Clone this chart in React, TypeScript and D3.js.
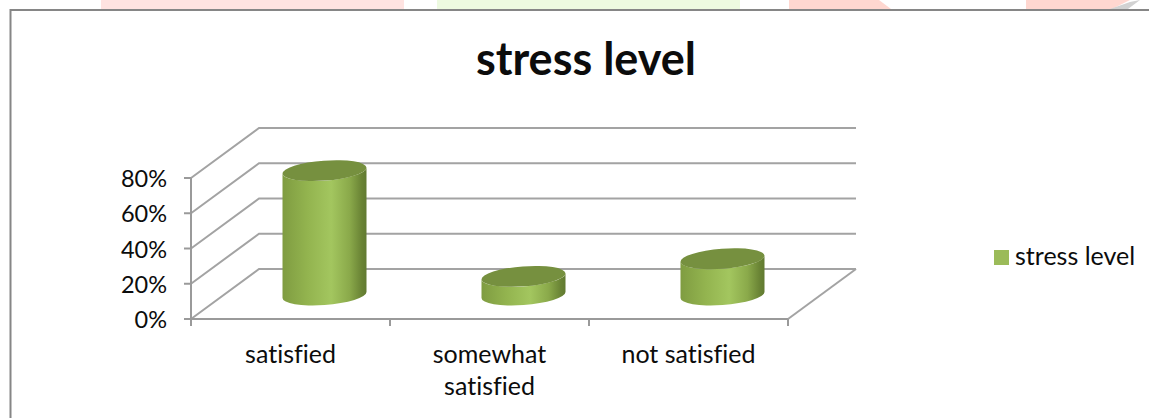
import { useEffect, useRef } from 'react';
import * as d3 from 'd3';

const categories = ['satisfied', 'somewhat satisfied', 'not satisfied'];
const values = [70, 10, 20];
const yTicks = [0, 20, 40, 60, 80];
const seriesName = 'stress level';

const FONT = 'Lato, Carlito, sans-serif';

export default function App() {
  const svgRef = useRef<SVGSVGElement>(null);

  useEffect(() => {
    if (!svgRef.current) return;

    const width = 1149;
    const height = 418;

    // Clear previous content
    const svg = d3.select(svgRef.current);
    svg.selectAll('*').remove();
    svg.attr('width', width).attr('height', height);
    svg.style('font-variant-ligatures', 'none');

    svg.append('rect').attr('width', width).attr('height', height).attr('fill', '#fff');

    // Scraps of the page behind the chart
    const strip = [
      { x: 101, w: 303, c: '#ffe3e1' },
      { x: 437, w: 303, c: '#edfae0' },
    ];
    svg
      .selectAll('rect.strip')
      .data(strip)
      .join('rect')
      .attr('class', 'strip')
      .attr('x', (d) => d.x)
      .attr('y', 0)
      .attr('width', (d) => d.w)
      .attr('height', 9)
      .attr('fill', (d) => d.c);
    svg.append('path').attr('d', 'M789 0L879 0L891 9L789 9Z').attr('fill', '#ffd7d0');
    svg.append('path').attr('d', 'M1026 0L1130 0L1112 9L1026 9Z').attr('fill', '#ffd7d0');
    svg.append('path').attr('d', 'M1110 9L1130 2L1140 0L1128 9Z').attr('fill', '#d2d2d2');

    // Chart frame
    svg
      .append('path')
      .attr('d', 'M10.5 418V10H1149')
      .attr('fill', 'none')
      .attr('stroke', '#868686')
      .attr('stroke-width', 2);

    const x = d3.scaleBand().domain(categories).range([191, 788]);
    const y = d3.scaleLinear().domain([0, 80]).range([319, 178]);
    const depthX = 68;
    const depthY = -50;

    // Gradient for the cylinder sides
    const grad = svg
      .append('defs')
      .append('linearGradient')
      .attr('id', 'side')
      .attr('x1', 0)
      .attr('x2', 1)
      .attr('y1', 0)
      .attr('y2', 0);
    [
      [0, '#7f9c41'],
      [0.3, '#93b44f'],
      [0.58, '#a3c65f'],
      [0.8, '#8aa94a'],
      [0.94, '#6a8435'],
      [1, '#617a31'],
    ].forEach(([o, c]) => grad.append('stop').attr('offset', o).attr('stop-color', c));

    // Back wall gridlines and their diagonals on the side wall
    const grid = svg.append('g').attr('fill', 'none').attr('stroke', '#a3a3a3').attr('stroke-width', 2);
    yTicks.forEach((t) => {
      const p = d3.path();
      p.moveTo(x.range()[0], y(t));
      p.lineTo(x.range()[0] + depthX, y(t) + depthY);
      p.lineTo(x.range()[1] + depthX, y(t) + depthY);
      grid.append('path').attr('d', p.toString());
    });
    const floorEdge = d3.path();
    floorEdge.moveTo(x.range()[1], y(0));
    floorEdge.lineTo(x.range()[1] + depthX, y(0) + depthY);
    grid.append('path').attr('d', floorEdge.toString());

    // Axes
    const axes = svg.append('g').attr('stroke', '#9a9a9a').attr('stroke-width', 2).attr('fill', 'none');
    axes.append('line').attr('x1', 191).attr('x2', 191).attr('y1', y(80)).attr('y2', y(0));
    axes.append('line').attr('x1', 191).attr('x2', 788).attr('y1', y(0)).attr('y2', y(0));
    yTicks.forEach((t) => {
      axes.append('line').attr('x1', 184).attr('x2', 191).attr('y1', y(t)).attr('y2', y(t));
    });
    categories.forEach((c) => {
      const tx = x(c) as number;
      axes.append('line').attr('x1', tx).attr('x2', tx).attr('y1', y(0)).attr('y2', 326);
    });
    axes.append('line').attr('x1', 788).attr('x2', 788).attr('y1', y(0)).attr('y2', 326);

    // Tick labels
    svg
      .selectAll('text.ytick')
      .data(yTicks)
      .join('text')
      .attr('class', 'ytick')
      .attr('x', 167)
      .attr('y', (d) => y(d) + 9)
      .attr('text-anchor', 'end')
      .style('font-family', FONT)
      .style('font-size', '23.5px')
      .style('fill', '#0c0c0c')
      .text((d) => `${d}%`);

    // Cylinders
    const a = 42.1;
    const b = 10;
    const tilt = -4.3;
    const halfW = 42;
    const skew = 3;
    const bars = svg.append('g');
    categories.forEach((c, i) => {
      const cx = (x(c) as number) + x.bandwidth() / 2 + depthX / 2;
      const zero = y(0) + depthY / 2;
      const top = zero - (y(0) - y(values[i]));
      const bottom = zero + 1;

      const body =
        `M${cx - halfW} ${top + skew}L${cx - halfW} ${bottom + skew}` +
        `A${a} ${b} ${tilt} 0 0 ${cx + halfW} ${bottom - skew}` +
        `L${cx + halfW} ${top - skew}` +
        `A${a} ${b} ${tilt} 0 1 ${cx - halfW} ${top + skew}Z`;
      bars.append('path').attr('d', body).attr('fill', 'url(#side)');
      bars
        .append('ellipse')
        .attr('cx', cx)
        .attr('cy', top)
        .attr('rx', a)
        .attr('ry', b)
        .attr('transform', `rotate(${tilt} ${cx} ${top})`)
        .attr('fill', '#76903f');
    });

    // Category labels, wrapped the way the original wraps them
    categories.forEach((c) => {
      const cx = (x(c) as number) + x.bandwidth() / 2;
      const lines = c === 'somewhat satisfied' ? c.split(' ') : [c];
      lines.forEach((line, j) => {
        svg
          .append('text')
          .attr('x', cx)
          .attr('y', 363 + j * 32)
          .attr('text-anchor', 'middle')
          .style('font-family', FONT)
          .style('font-size', '25px')
          .style('fill', '#0c0c0c')
          .text(line);
      });
    });

    // Title
    svg
      .append('text')
      .attr('x', 586)
      .attr('y', 75)
      .attr('text-anchor', 'middle')
      .style('font-family', FONT)
      .style('font-size', '45px')
      .style('font-weight', 'bold')
      .style('fill', '#0c0c0c')
      .text(seriesName);

    // Legend
    svg.append('rect').attr('x', 994).attr('y', 250).attr('width', 15).attr('height', 15).attr('fill', '#9bbb59');
    svg
      .append('text')
      .attr('x', 1015)
      .attr('y', 265)
      .style('font-family', FONT)
      .style('font-size', '25px')
      .style('fill', '#0c0c0c')
      .text(seriesName);
  }, []);

  return <svg ref={svgRef} style={{ position: 'absolute', left: 0, top: 0, display: 'block' }} />;
}
